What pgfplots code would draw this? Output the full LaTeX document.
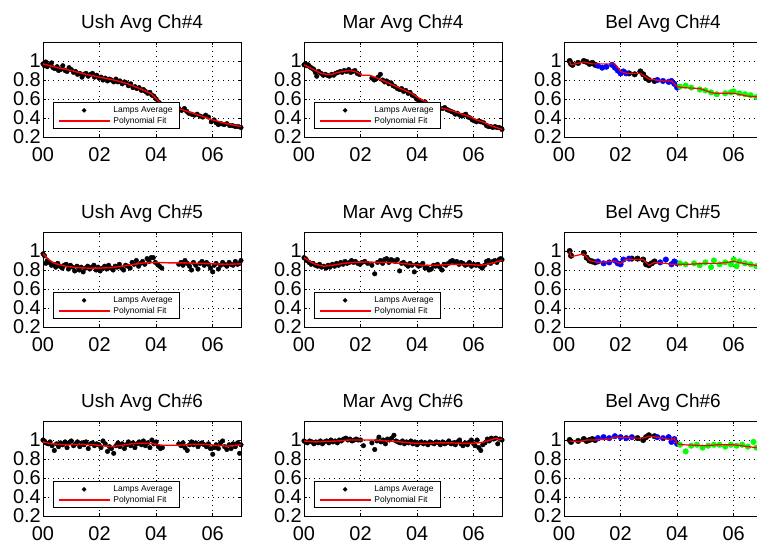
\documentclass[border=0pt]{standalone}
\usepackage{pgfplots}
\pgfplotsset{compat=1.18}
\usepackage{fontspec}
\setmainfont{Liberation Sans}
\definecolor{fitred}{rgb}{1,0,0}
\pgfplotsset{
 panel/.style={
  scale only axis, width=198bp, height=95bp, anchor=north west,
  xmin=0,xmax=7,ymin=0.2,ymax=1.2,
  clip marker paths=true, clip=false,
  xtick={0,2,4,6}, xticklabels={00,02,04,06},
  ytick={0.2,0.4,0.6,0.8,1}, yticklabels={0.2,0.4,0.6,0.8,1},
  tick align=inside, major tick length=3bp, tick style={black, line width=0.5bp},
  grid=major, major grid style={black, line width=0.6bp, dash pattern=on 0.6bp off 4.4bp},
  axis line style={line width=0.9bp},
  ticklabel style={font=\fontsize{20}{20}\selectfont, inner sep=0pt},
  xticklabel style={yshift=-10bp},
  yticklabel style={xshift=-2bp},
  title style={font=\fontsize{19}{19}\selectfont, at={(0.5,1)}, anchor=base, yshift=7.5bp},
  legend style={at={(0.05,0.085)}, anchor=south west, draw=black, line width=0.8bp, fill=white,
    font=\fontsize{8.5}{9}\selectfont, inner xsep=4.5bp, inner ysep=1.5bp, row sep=-1.5bp, column sep=1bp,
    nodes={inner sep=2bp, text height=6.3bp, text depth=1.8bp}},
  legend cell align=left,
 },
 dots/.style={only marks, mark=*, mark size=2.3bp, black,
   legend image code/.code={\path[draw=none,fill=none] (0bp,0bp) -- (51bp,0bp); \fill[black] (25.5bp,0bp) circle (1.8bp);}},
 fitl/.style={fitred, line width=1.4bp, no marks,
   legend image code/.code={\path[draw=fitred, line width=1.6bp, solid] (0bp,0bp) -- (51bp,0bp);}},
 bel/.style={only marks, mark=*, mark size=2.8bp},
 belfit/.style={fitred, line width=1.2bp, no marks},
}
\begin{document}
\begin{tikzpicture}
\useasboundingbox (0bp,-549bp) rectangle (757bp,0bp);
% ---------------- Row 1 ----------------
\begin{axis}[panel, at={(43bp,-42bp)}, title={Ush Avg Ch\#4}]
\addplot[dots] coordinates {(0.00,0.97)(0.05,0.95)(0.10,0.99)(0.15,0.94)(0.22,0.96)(0.30,0.98)(0.35,0.93)(0.42,0.92)(0.50,0.94)(0.55,0.90)(0.62,0.91)(0.70,0.95)(0.78,0.90)(0.85,0.89)(0.92,0.93)(1.00,0.91)(1.08,0.88)(1.15,0.89)(1.22,0.86)(1.30,0.87)(1.38,0.83)(1.45,0.86)(1.52,0.87)(1.60,0.84)(1.68,0.86)(1.75,0.87)(1.82,0.83)(1.90,0.85)(1.98,0.82)(2.05,0.83)(2.12,0.80)(2.20,0.82)(2.28,0.79)(2.35,0.81)(2.42,0.80)(2.50,0.78)(2.58,0.81)(2.65,0.78)(2.72,0.79)(2.80,0.76)(2.88,0.78)(2.95,0.77)(3.02,0.74)(3.10,0.76)(3.18,0.72)(3.25,0.73)(3.32,0.71)(3.40,0.72)(3.48,0.69)(3.55,0.70)(3.62,0.68)(3.70,0.66)(3.78,0.67)(3.85,0.64)(3.92,0.63)(4.00,0.60)(4.08,0.57)(4.15,0.55)(4.25,0.54)(4.40,0.53)(4.55,0.52)(4.70,0.51)(4.80,0.50)(4.90,0.48)(5.00,0.50)(5.08,0.47)(5.15,0.45)(5.25,0.44)(5.35,0.43)(5.45,0.44)(5.55,0.42)(5.65,0.41)(5.75,0.43)(5.85,0.41)(5.95,0.36)(6.05,0.38)(6.12,0.35)(6.20,0.33)(6.30,0.34)(6.40,0.33)(6.50,0.34)(6.60,0.32)(6.70,0.32)(6.80,0.31)(6.90,0.31)(7.00,0.30)};
\addlegendentry{Lamps Average}
\addplot[fitl] coordinates {(0,0.97)(0.5,0.93)(1,0.9)(1.5,0.86)(2,0.83)(2.5,0.8)(3,0.76)(3.5,0.70)(3.8,0.66)(3.95,0.62)(4.1,0.57)(4.5,0.53)(5,0.48)(5.5,0.43)(6,0.38)(6.5,0.34)(7,0.31)};
\addlegendentry{Polynomial Fit}
\end{axis}
\begin{axis}[panel, at={(304bp,-42bp)}, title={Mar Avg Ch\#4}]
\addplot[dots] coordinates {(0.00,0.96)(0.05,0.97)(0.10,0.95)(0.15,0.96)(0.20,0.94)(0.25,0.93)(0.30,0.92)(0.35,0.91)(0.40,0.88)(0.45,0.84)(0.52,0.89)(0.60,0.87)(0.68,0.85)(0.75,0.86)(0.82,0.85)(0.90,0.84)(0.98,0.86)(1.05,0.85)(1.12,0.87)(1.20,0.88)(1.28,0.89)(1.35,0.88)(1.42,0.90)(1.50,0.89)(1.58,0.91)(1.65,0.88)(1.72,0.89)(1.80,0.90)(1.88,0.87)(1.95,0.86)(2.40,0.82)(2.48,0.80)(2.55,0.81)(2.62,0.83)(2.70,0.86)(2.78,0.80)(2.85,0.78)(2.92,0.79)(3.00,0.76)(3.08,0.77)(3.15,0.74)(3.22,0.73)(3.30,0.71)(3.38,0.70)(3.45,0.71)(3.52,0.68)(3.60,0.69)(3.68,0.66)(3.75,0.67)(3.82,0.64)(3.90,0.63)(3.98,0.60)(4.05,0.59)(4.12,0.58)(4.20,0.56)(4.28,0.57)(4.90,0.50)(4.98,0.51)(5.05,0.49)(5.12,0.48)(5.20,0.47)(5.28,0.46)(5.35,0.44)(5.42,0.45)(5.50,0.43)(5.58,0.42)(5.65,0.43)(5.72,0.44)(5.80,0.41)(5.88,0.40)(5.95,0.38)(6.02,0.37)(6.10,0.36)(6.18,0.37)(6.25,0.36)(6.35,0.35)(6.45,0.32)(6.52,0.31)(6.60,0.31)(6.68,0.30)(6.75,0.31)(6.82,0.30)(6.90,0.30)(6.98,0.29)(7.00,0.28)};
\addlegendentry{Lamps Average}
\addplot[fitl] coordinates {(0,0.96)(0.2,0.93)(0.4,0.90)(0.6,0.87)(0.8,0.86)(1.0,0.86)(1.2,0.88)(1.4,0.89)(1.6,0.90)(1.8,0.89)(1.95,0.87)(2.05,0.85)(2.3,0.85)(2.6,0.82)(2.9,0.78)(3.2,0.74)(3.5,0.70)(3.8,0.66)(4.1,0.60)(4.4,0.56)(4.8,0.51)(5.2,0.48)(5.6,0.44)(5.9,0.41)(6.1,0.38)(6.4,0.35)(6.6,0.32)(6.8,0.30)(7.0,0.28)};
\addlegendentry{Polynomial Fit}
\end{axis}
\begin{axis}[panel, at={(564bp,-42bp)}, title={Bel Avg Ch\#4}]
\addplot[bel, black] coordinates {(0.2,1.0)(0.25,0.97)(0.3,0.96)(0.5,0.98)(0.7,1.0)(0.8,0.99)(0.9,0.97)(1.0,0.98)(1.1,0.96)(2.3,0.87)(2.5,0.86)(2.7,0.89)(2.8,0.86)(2.9,0.82)(3.0,0.80)(3.2,0.79)};
\addplot[bel, blue] coordinates {(1.2,0.95)(1.35,0.93)(1.5,0.94)(1.7,0.96)(1.8,0.93)(1.9,0.90)(2.0,0.87)(2.1,0.89)(2.2,0.87)(3.3,0.80)(3.5,0.79)(3.7,0.78)(3.8,0.79)(3.9,0.76)(4.0,0.72)};
\addplot[bel, green] coordinates {(4.1,0.73)(4.3,0.74)(4.5,0.72)(4.8,0.70)(5.0,0.69)(5.2,0.67)(5.4,0.65)(5.7,0.66)(5.9,0.67)(6.0,0.68)(6.2,0.66)(6.4,0.65)(6.6,0.64)(6.8,0.62)(7.0,0.61)};
\addplot[belfit] coordinates {(0.2,1.0)(0.25,0.96)(0.7,0.99)(1.0,0.97)(1.6,0.97)(1.8,0.97)(2.0,0.89)(2.2,0.87)(2.7,0.87)(3.0,0.81)(3.5,0.79)(3.8,0.79)(4.0,0.73)(4.2,0.72)(4.8,0.71)(5.3,0.66)(6.0,0.66)(6.5,0.63)(7.0,0.62)};
\end{axis}
% ---------------- Row 2 ----------------
\begin{axis}[panel, at={(43bp,-232bp)}, title={Ush Avg Ch\#5}]
\addplot[dots] coordinates {(0.00,0.97)(0.05,0.95)(0.10,0.87)(0.15,0.90)(0.22,0.88)(0.30,0.85)(0.38,0.86)(0.45,0.83)(0.52,0.87)(0.60,0.84)(0.68,0.82)(0.75,0.85)(0.82,0.86)(0.90,0.81)(0.97,0.85)(1.05,0.83)(1.12,0.79)(1.20,0.84)(1.28,0.80)(1.35,0.83)(1.42,0.78)(1.50,0.82)(1.58,0.84)(1.65,0.81)(1.72,0.83)(1.80,0.85)(1.88,0.80)(1.95,0.83)(2.02,0.79)(2.10,0.82)(2.18,0.84)(2.25,0.81)(2.32,0.85)(2.40,0.82)(2.48,0.80)(2.55,0.84)(2.62,0.83)(2.70,0.86)(2.78,0.82)(2.85,0.80)(2.92,0.85)(3.00,0.84)(3.08,0.82)(3.15,0.88)(3.22,0.86)(3.30,0.90)(3.38,0.84)(3.45,0.87)(3.52,0.89)(3.60,0.86)(3.68,0.92)(3.75,0.89)(3.82,0.93)(3.90,0.93)(3.97,0.88)(4.05,0.86)(4.12,0.84)(4.20,0.82)(4.80,0.86)(4.88,0.88)(4.95,0.85)(5.02,0.90)(5.10,0.87)(5.18,0.84)(5.25,0.80)(5.32,0.88)(5.40,0.85)(5.48,0.81)(5.55,0.87)(5.62,0.89)(5.70,0.85)(5.78,0.88)(5.85,0.86)(5.92,0.82)(6.00,0.78)(6.05,0.85)(6.12,0.87)(6.20,0.81)(6.28,0.85)(6.35,0.88)(6.42,0.86)(6.50,0.84)(6.58,0.88)(6.65,0.86)(6.72,0.85)(6.80,0.89)(6.88,0.86)(6.95,0.87)(7.00,0.90)};
\addlegendentry{Lamps Average}
\addplot[fitl] coordinates {(0,0.97)(0.2,0.91)(0.4,0.87)(0.8,0.84)(1.2,0.825)(1.6,0.82)(2.0,0.82)(2.4,0.825)(2.8,0.84)(3.2,0.86)(3.6,0.875)(4.0,0.88)(4.5,0.875)(5.0,0.875)(5.5,0.87)(6.0,0.865)(6.5,0.86)(7.0,0.865)};
\addlegendentry{Polynomial Fit}
\end{axis}
\begin{axis}[panel, at={(304bp,-232bp)}, title={Mar Avg Ch\#5}]
\addplot[dots] coordinates {(0.00,0.93)(0.05,0.92)(0.10,0.90)(0.18,0.88)(0.25,0.86)(0.32,0.87)(0.40,0.85)(0.48,0.84)(0.55,0.86)(0.62,0.83)(0.70,0.84)(0.78,0.82)(0.85,0.85)(0.92,0.83)(1.00,0.86)(1.08,0.84)(1.15,0.87)(1.22,0.85)(1.30,0.88)(1.38,0.86)(1.45,0.89)(1.52,0.87)(1.60,0.88)(1.68,0.90)(1.75,0.88)(1.82,0.89)(1.90,0.87)(1.98,0.86)(2.05,0.88)(2.15,0.89)(2.25,0.87)(2.40,0.85)(2.50,0.76)(2.60,0.88)(2.70,0.90)(2.78,0.87)(2.85,0.91)(2.92,0.92)(3.00,0.88)(3.08,0.91)(3.15,0.90)(3.22,0.89)(3.30,0.91)(3.38,0.79)(3.45,0.87)(3.52,0.88)(3.60,0.86)(3.68,0.84)(3.75,0.87)(3.82,0.85)(3.90,0.78)(3.98,0.86)(4.05,0.84)(4.12,0.85)(4.20,0.87)(4.28,0.82)(4.35,0.83)(4.42,0.80)(4.50,0.81)(4.58,0.85)(4.65,0.84)(4.72,0.86)(4.80,0.83)(4.88,0.80)(4.95,0.86)(5.02,0.85)(5.10,0.87)(5.18,0.89)(5.25,0.90)(5.32,0.88)(5.40,0.89)(5.48,0.86)(5.55,0.88)(5.62,0.87)(5.70,0.85)(5.78,0.86)(5.85,0.88)(5.92,0.84)(6.00,0.86)(6.08,0.85)(6.15,0.86)(6.22,0.84)(6.30,0.82)(6.38,0.85)(6.45,0.89)(6.52,0.90)(6.60,0.87)(6.68,0.89)(6.75,0.90)(6.82,0.88)(6.90,0.91)(6.95,0.92)(7.00,0.91)};
\addlegendentry{Lamps Average}
\addplot[fitl] coordinates {(0,0.93)(0.2,0.89)(0.4,0.86)(0.7,0.84)(1.0,0.85)(1.4,0.87)(1.8,0.88)(2.2,0.885)(2.6,0.88)(3.0,0.88)(3.4,0.87)(3.8,0.86)(4.2,0.85)(4.6,0.85)(5.0,0.855)(5.4,0.86)(5.8,0.86)(6.2,0.85)(6.5,0.86)(6.8,0.885)(7.0,0.905)};
\addlegendentry{Polynomial Fit}
\end{axis}
\begin{axis}[panel, at={(564bp,-232bp)}, title={Bel Avg Ch\#5}]
\addplot[bel, black] coordinates {(0.2,1.0)(0.25,0.95)(0.7,0.98)(0.8,0.93)(0.9,0.90)(1.0,0.89)(1.1,0.88)(2.4,0.92)(2.6,0.92)(2.8,0.91)(2.9,0.86)(3.0,0.85)(3.1,0.87)(3.2,0.89)};
\addplot[bel, blue] coordinates {(1.2,0.89)(1.4,0.87)(1.6,0.88)(1.8,0.90)(1.9,0.87)(2.0,0.86)(2.1,0.91)(2.3,0.92)(3.4,0.88)(3.6,0.91)(3.8,0.86)(3.9,0.89)(4.0,0.87)};
\addplot[bel, green] coordinates {(4.1,0.87)(4.3,0.86)(4.6,0.87)(4.8,0.85)(5.0,0.88)(5.2,0.83)(5.3,0.90)(5.5,0.86)(5.7,0.88)(5.9,0.86)(6.0,0.91)(6.1,0.84)(6.2,0.89)(6.4,0.87)(6.6,0.86)(6.8,0.84)(7.0,0.83)};
\addplot[belfit] coordinates {(0.2,1.0)(0.25,0.94)(0.7,0.97)(0.9,0.90)(1.2,0.88)(1.8,0.89)(2.0,0.87)(2.2,0.91)(2.8,0.91)(3.0,0.85)(3.2,0.88)(3.6,0.87)(3.8,0.86)(4.4,0.86)(5.0,0.87)(5.5,0.87)(6.0,0.89)(6.5,0.86)(7.0,0.84)};
\end{axis}
% ---------------- Row 3 ----------------
\begin{axis}[panel, at={(43bp,-421bp)}, title={Ush Avg Ch\#6}]
\addplot[dots] coordinates {(0.00,1.00)(0.05,0.99)(0.10,0.97)(0.18,0.96)(0.25,0.98)(0.32,0.94)(0.40,0.89)(0.48,0.96)(0.55,0.93)(0.62,0.97)(0.70,0.95)(0.78,0.98)(0.85,0.92)(0.92,0.97)(1.00,0.99)(1.08,0.94)(1.15,0.96)(1.22,0.98)(1.30,0.93)(1.38,0.97)(1.45,0.95)(1.52,0.98)(1.60,0.91)(1.68,0.96)(1.75,0.97)(1.82,0.94)(1.90,0.96)(1.98,0.95)(2.05,0.92)(2.12,0.99)(2.20,0.96)(2.28,0.88)(2.35,0.93)(2.42,0.91)(2.50,0.86)(2.58,0.94)(2.65,0.97)(2.72,0.93)(2.80,0.96)(2.88,0.91)(2.95,0.95)(3.02,0.98)(3.10,0.94)(3.18,0.97)(3.25,0.92)(3.32,0.96)(3.40,0.98)(3.48,0.95)(3.55,0.99)(3.62,0.94)(3.70,0.97)(3.78,0.92)(3.85,1.00)(3.92,0.96)(4.00,0.98)(4.08,0.93)(4.15,0.91)(4.22,0.92)(4.80,0.96)(4.88,0.94)(4.95,0.97)(5.02,0.92)(5.10,0.89)(5.18,0.95)(5.25,0.98)(5.32,0.95)(5.40,0.97)(5.48,0.93)(5.55,0.96)(5.62,0.97)(5.70,0.95)(5.78,0.93)(5.85,0.96)(5.92,0.91)(6.00,0.85)(6.05,0.92)(6.12,0.95)(6.20,0.91)(6.28,0.97)(6.35,0.99)(6.42,0.93)(6.50,0.90)(6.58,0.95)(6.65,0.91)(6.72,0.96)(6.80,0.93)(6.88,0.97)(6.95,0.86)(7.00,0.95)};
\addlegendentry{Lamps Average}
\addplot[fitl] coordinates {(0,0.98)(0.3,0.96)(0.8,0.95)(1.3,0.955)(1.8,0.95)(2.4,0.93)(2.9,0.95)(3.3,0.965)(3.8,0.965)(4.2,0.945)(4.8,0.945)(5.3,0.955)(5.7,0.955)(6.1,0.945)(6.5,0.935)(6.7,0.94)(7,0.95)};
\addlegendentry{Polynomial Fit}
\end{axis}
\begin{axis}[panel, at={(304bp,-421bp)}, title={Mar Avg Ch\#6}]
\addplot[dots] coordinates {(0.00,0.99)(0.05,0.98)(0.12,0.97)(0.20,0.99)(0.28,0.98)(0.35,0.96)(0.42,0.98)(0.50,0.97)(0.58,0.99)(0.65,0.96)(0.72,0.98)(0.80,0.99)(0.88,0.97)(0.95,1.00)(1.02,0.98)(1.10,0.99)(1.18,0.97)(1.25,1.00)(1.32,0.99)(1.40,1.01)(1.48,1.02)(1.55,1.00)(1.62,1.01)(1.70,0.99)(1.78,1.00)(1.85,1.01)(1.92,1.00)(2.00,1.00)(2.10,0.94)(2.40,0.97)(2.50,0.90)(2.58,0.99)(2.65,1.03)(2.72,0.98)(2.80,1.00)(2.88,0.96)(2.95,1.01)(3.02,1.00)(3.10,1.02)(3.18,1.05)(3.25,0.99)(3.32,0.98)(3.40,0.97)(3.48,0.99)(3.55,0.96)(3.62,0.98)(3.70,0.97)(3.78,0.99)(3.85,0.96)(3.92,0.98)(4.00,0.95)(4.08,0.97)(4.15,0.98)(4.22,0.96)(4.30,0.97)(4.38,0.95)(4.45,0.98)(4.52,0.97)(4.60,0.96)(4.68,0.98)(4.75,0.97)(4.82,0.95)(4.90,0.98)(4.98,0.96)(5.05,0.97)(5.12,0.99)(5.20,0.96)(5.28,0.97)(5.35,0.95)(5.42,0.98)(5.50,1.00)(5.55,0.96)(5.62,0.94)(5.70,0.97)(5.78,0.95)(5.85,0.98)(5.92,1.00)(6.00,0.96)(6.05,0.94)(6.12,1.00)(6.18,0.92)(6.25,0.89)(6.32,0.95)(6.40,0.97)(6.48,1.01)(6.55,0.99)(6.62,1.02)(6.70,1.01)(6.78,1.02)(6.85,0.96)(6.92,1.01)(7.00,1.00)};
\addlegendentry{Lamps Average}
\addplot[fitl] coordinates {(0,0.99)(0.4,0.98)(0.8,0.985)(1.2,0.99)(1.6,1.0)(2.0,1.0)(2.5,1.0)(3.0,0.99)(3.4,0.98)(3.9,0.965)(4.3,0.965)(4.8,0.97)(5.2,0.97)(5.6,0.965)(6.0,0.965)(6.3,0.975)(6.6,1.0)(6.8,1.02)(6.9,1.0)(7.0,1.01)};
\addlegendentry{Polynomial Fit}
\end{axis}
\begin{axis}[panel, at={(564bp,-421bp)}, title={Bel Avg Ch\#6}]
\addplot[bel, black] coordinates {(0.2,1.0)(0.25,0.98)(0.5,0.99)(0.7,1.01)(0.8,0.99)(0.9,1.0)(1.0,1.01)(1.1,1.0)(2.6,1.02)(2.8,1.0)(2.9,1.03)(3.0,1.05)(3.2,1.04)};
\addplot[bel, blue] coordinates {(1.2,1.02)(1.4,1.03)(1.6,1.02)(1.8,1.04)(2.0,1.03)(2.2,1.02)(2.4,1.03)(3.3,1.03)(3.5,1.02)(3.7,1.03)(3.8,0.98)(3.9,1.01)(4.0,0.96)};
\addplot[bel, green] coordinates {(4.1,0.95)(4.3,0.88)(4.5,0.94)(4.7,0.95)(4.9,0.92)(5.1,0.94)(5.3,0.95)(5.5,0.95)(5.7,0.93)(5.9,0.95)(6.1,0.94)(6.3,0.95)(6.5,0.93)(6.7,0.98)(6.8,0.92)(7.0,0.93)};
\addplot[belfit] coordinates {(0.2,0.99)(0.5,0.98)(0.8,1.0)(1.1,1.0)(1.6,1.01)(1.8,1.03)(2.5,1.02)(2.8,1.02)(3.0,1.04)(3.5,1.02)(3.8,1.0)(3.9,1.02)(4.0,0.96)(4.2,0.95)(5.0,0.94)(5.5,0.95)(6.0,0.95)(6.5,0.93)(6.8,0.92)(7.0,0.94)};
\end{axis}
\end{tikzpicture}
\end{document}
